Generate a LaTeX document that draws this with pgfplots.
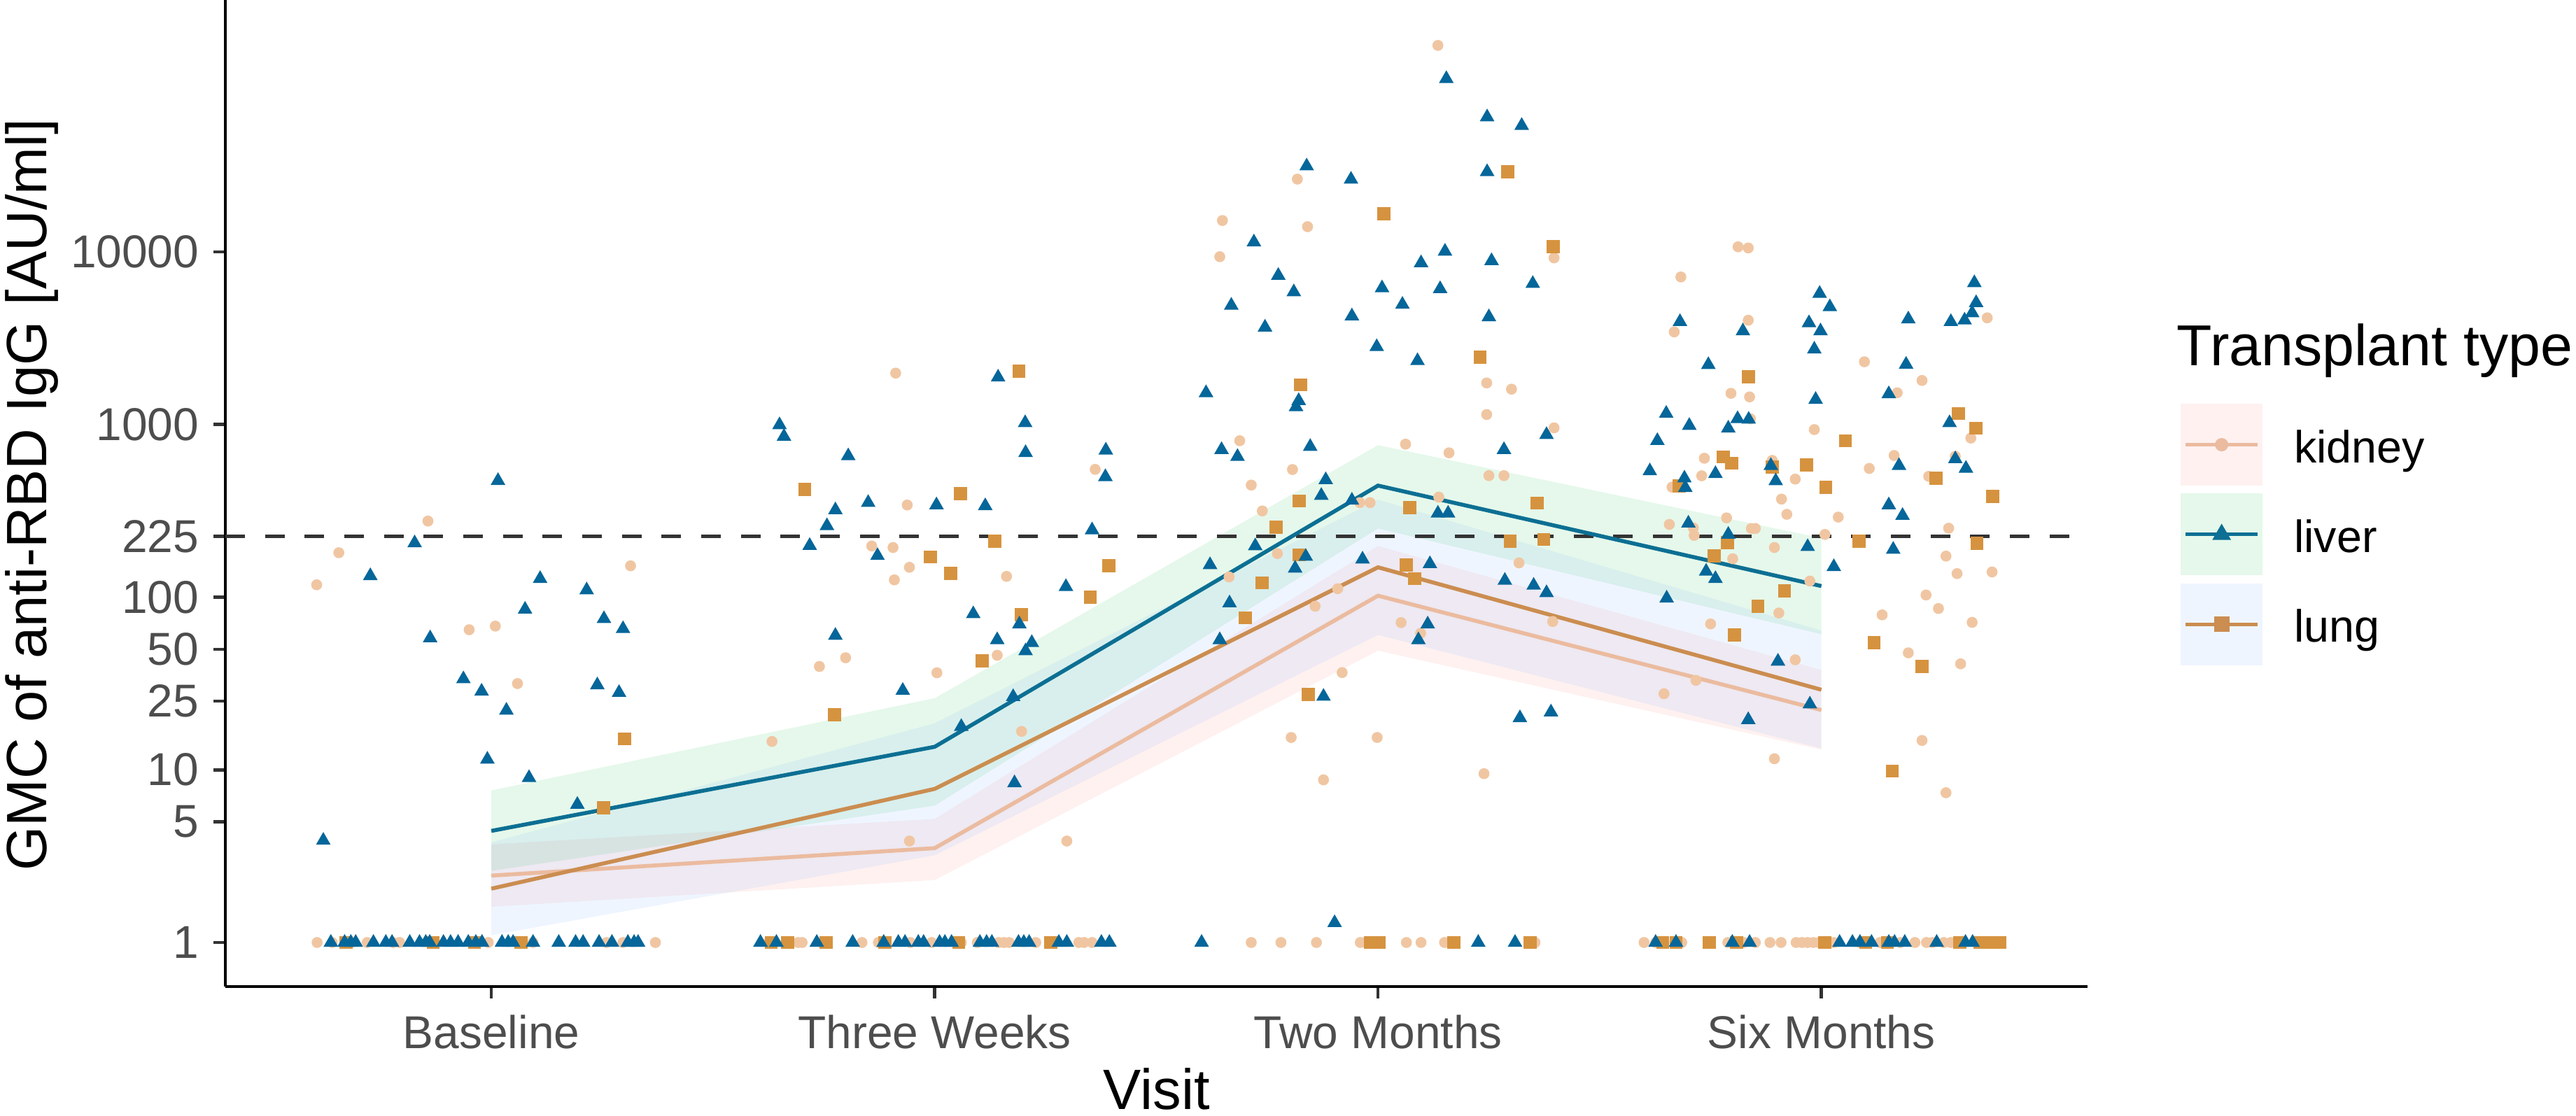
\documentclass[border=0pt]{standalone}
\usepackage{pgfplots}
\pgfplotsset{compat=1.18}
\usepackage{fontspec}
\setmainfont{Liberation Sans}
\definecolor{kidpt}{HTML}{F0C6A2}
\definecolor{kidln}{HTML}{EBBB9F}
\definecolor{livpt}{HTML}{05669A}
\definecolor{livln}{HTML}{0C6F93}
\definecolor{lungpt}{HTML}{D6933F}
\definecolor{lungln}{HTML}{CB8D50}
\definecolor{rred}{HTML}{F8766D}
\definecolor{rgreen}{HTML}{00BA38}
\definecolor{rblue}{HTML}{619CFF}
\definecolor{tickc}{HTML}{333333}
\definecolor{labc}{HTML}{4D4D4D}
\begin{document}
\begin{tikzpicture}
\begin{axis}[
  width=638.6pt, height=338.4pt, scale only axis,
  xmin=-0.6, xmax=3.6,
  ymode=log, ymin=0.5556, ymax=287800,
  axis x line=bottom, axis y line=left,
  axis line style={-, line width=1.1pt, black},
  xtick={0,1,2,3},
  xticklabels={Baseline,Three Weeks,Two Months,Six Months},
  ytick={1,5,10,25,50,100,225,1000,10000},
  yticklabels={1,5,10,25,50,100,225,1000,10000},
  yminorticks=false, xminorticks=false,
  tick align=outside, major tick length=4.1pt,
  every tick/.style={line width=1.1pt, color=tickc},
  tick label style={font=\fontsize{15.8}{18}\selectfont, color=labc, inner sep=0pt},
  xticklabel style={anchor=base, yshift=-17.2pt},
  yticklabel style={anchor=east, xshift=-4.8pt},
  legend style={at={(axis description cs:1.05011,0.59073)}, anchor=north west,
    draw=none, fill=none, inner sep=0pt, outer sep=0pt,
    row sep=2.7pt, column sep=10.8pt,
    font=\fontsize{15.5}{18}\selectfont,
    nodes={inner sep=0pt, outer sep=0pt, text depth=0pt},
    cells={anchor=base west}},
]
% ---------------- kidney points ----------------
\addplot[only marks, mark=*, mark size=1.68pt, color=kidpt, mark options={draw=none, fill=kidpt}, forget plot] table {
x y
-0.143 276
-0.344 181
-0.394 118
0.314 152
-0.050 64.8
0.009 68
0.059 31.6
-0.393 1
-0.359 1
-0.316 1
-0.280 1
-0.221 1
-0.207 1
-0.007 1
0.094 1
0.260 1
0.297 1
0.370 1
0.912 1986
1.362 550
0.938 342
0.858 198
0.906 194
0.943 149
0.909 126
1.162 132
0.799 44.6
0.740 39.7
1.005 36.5
1.141 46.1
0.633 14.6
1.196 16.7
0.943 3.87
1.298 3.87
0.625 1
0.692 1
0.701 1
0.836 1
0.873 1
0.945 1
0.993 1
1.060 1
1.096 1
1.144 1
1.156 1
1.168 1
1.228 1
1.325 1
1.337 1
1.355 1
2.135 157000
1.818 26400
1.649 15200
1.841 14000
1.643 9380
2.397 9230
2.245 1742
2.301 1603
2.245 1143
2.397 957
1.688 806
2.062 770
2.160 686
1.807 549
1.714 446
2.250 506
2.284 506
1.739 316
1.959 353
1.982 353
1.773 179
1.664 131
2.137 380
2.318 158
2.394 72.3
1.858 88.7
1.909 112
2.052 71.3
2.096 61.8
1.919 36.6
1.804 15.4
1.998 15.4
1.877 8.75
2.239 9.5
1.714 1
1.781 1
1.861 1
1.960 1
1.973 1
1.990 1
2.064 1
2.097 1
2.150 1
2.354 1
2.812 10700
2.835 10540
2.683 7160
2.835 4020
2.668 3440
3.374 4150
3.097 2310
3.227 1800
2.796 1517
2.838 1446
3.171 1527
2.840 1079
2.984 935
3.337 835
2.736 638
3.164 662
3.302 655
2.889 620
3.108 557
2.730 505
2.941 483
2.663 434
3.242 501
2.910 370
2.922 302
3.038 291
2.786 288
2.657 264
2.711 252
2.713 228
2.842 250
2.851 250
3.008 231
3.287 251
2.894 194
2.800 167
3.281 173
3.306 137
3.385 140
3.236 103
3.264 86
3.137 79
3.340 71.5
2.750 70
2.904 81
2.974 124
3.196 47.6
3.314 41.1
2.941 43.4
2.717 33
2.645 27.6
3.227 14.8
2.894 11.6
3.281 7.37
2.600 1
2.626 1
2.636 1
2.645 1
2.685 1
2.789 1
2.825 1
2.851 1
2.884 1
2.909 1
2.943 1
2.956 1
2.969 1
2.982 1
2.995 1
3.015 1
3.028 1
3.087 1
3.132 1
3.178 1
3.211 1
3.237 1
3.250 1
3.276 1
3.292 1
3.312 1
};
% ---------------- lung points ----------------
\addplot[only marks, mark=square*, mark size=2.04pt, color=lungpt, mark options={draw=none, fill=lungpt}, forget plot] table {
x y
0.300 15.1
0.253 6.03
-0.328 1
-0.131 1
-0.038 1
0.067 1
1.190 2042
0.707 422
1.058 399
1.135 211
0.990 171
1.036 137
1.393 152
1.351 100
1.196 79
1.107 42.9
0.774 20.9
0.631 1
0.668 1
0.755 1
0.888 1
1.054 1
1.262 1
2.292 29100
2.013 16600
2.395 10700
2.230 2460
1.825 1700
1.822 361
1.770 255
1.822 176
1.739 121
1.701 76
2.072 330
2.359 351
2.298 211
2.374 216
2.064 154
2.083 128
1.843 27.3
1.983 1
2.003 1
2.171 1
2.343 1
2.836 1893
3.309 1159
3.348 952
3.054 806
2.779 650
2.798 597
2.966 584
2.889 567
2.679 442
3.010 434
3.258 489
3.386 383
3.085 211
3.351 205
2.788 207
2.758 173
2.917 109
2.857 88.7
2.804 60.4
3.119 54.6
3.227 39.8
3.160 9.84
2.642 1
2.672 1
2.747 1
2.809 1
3.008 1
3.100 1
3.149 1
3.312 1
3.358 1
3.374 1
3.390 1
3.403 1
};
% ---------------- liver points ----------------
\addplot[only marks, mark=triangle*, mark size=2.5pt, color=livpt, mark options={draw=none, fill=livpt}, forget plot] table {
x y
0.015 473
-0.173 206
-0.273 133
0.110 128
0.215 110
0.076 85
0.254 75
0.297 65.6
-0.138 58
-0.063 33.6
-0.022 28.5
0.239 31
0.288 28
0.034 22.1
-0.009 11.5
0.085 9.0
0.194 6.3
-0.379 3.9
-0.362 1
-0.331 1
-0.317 1
-0.306 1
-0.266 1
-0.238 1
-0.224 1
-0.184 1
-0.162 1
-0.148 1
-0.139 1
-0.108 1
-0.092 1
-0.075 1
-0.052 1
-0.035 1
-0.021 1
0.024 1
0.038 1
0.049 1
0.094 1
0.152 1
0.190 1
0.207 1
0.243 1
0.272 1
0.308 1
0.322 1
0.331 1
1.143 1879
0.650 995
0.660 853
1.204 1023
1.205 687
0.805 658
1.386 710
1.385 498
0.850 353
0.776 320
1.004 342
1.114 338
0.757 259
0.718 199
0.871 174
1.355 245
1.296 115
1.087 80
1.191 69.8
0.776 60
1.141 56.6
1.219 54.5
1.205 48.8
0.928 28.8
1.177 26.5
1.060 17.8
1.180 8.4
0.607 1
0.643 1
0.734 1
0.815 1
0.885 1
0.918 1
0.933 1
0.963 1
0.975 1
1.011 1
1.023 1
1.038 1
1.102 1
1.117 1
1.129 1
1.189 1
1.201 1
1.213 1
1.280 1
1.298 1
1.376 1
1.394 1
2.154 100700
2.246 60400
2.324 53900
1.839 31400
1.939 26300
2.246 29100
1.720 11400
2.151 10070
2.097 8630
2.256 8880
1.775 7300
1.810 5860
2.009 6180
2.140 6110
2.349 6550
1.669 4900
2.055 4960
1.941 4250
2.250 4200
1.745 3660
1.997 2820
2.089 2340
1.612 1526
1.821 1374
1.815 1265
1.647 715
1.683 652
1.847 745
2.284 715
2.380 873
1.882 478
1.872 388
1.621 154
1.723 198
1.941 364
1.837 172
1.813 147
1.965 166
2.117 156
2.135 306
2.158 306
1.665 92.5
2.286 125
2.351 117
2.380 106
1.643 56.6
2.112 69.8
2.091 56.6
1.877 26.6
2.320 20.0
2.390 21.6
1.902 1.30
1.602 1
2.226 1
2.309 1
3.345 6620
2.996 5740
3.019 4800
3.349 5070
3.340 4430
2.681 3940
2.972 3880
3.196 4080
3.292 3940
3.323 4020
2.823 3480
2.998 3480
2.984 2730
2.745 2220
3.191 2230
3.152 1505
2.987 1396
2.650 1159
2.702 986
2.811 1080
2.836 1071
2.790 952
3.289 1023
2.630 806
2.613 538
2.761 519
2.691 489
2.693 431
2.886 578
2.897 471
3.175 578
3.326 557
3.302 632
3.152 342
3.183 297
2.700 268
2.790 231
2.969 196
3.162 189
3.028 150
2.740 141
2.761 128
2.651 98.6
2.902 42.5
2.974 24
2.835 19.5
2.626 1
2.672 1
2.799 1
2.838 1
3.041 1
3.070 1
3.087 1
3.113 1
3.152 1
3.165 1
3.188 1
3.260 1
3.325 1
3.341 1
};
% ---------------- ribbons ----------------
\addplot[draw=none, fill=rred, fill opacity=0.1, forget plot] coordinates {
(0,1.61) (1,2.3) (2,49) (3,13.1) (3,37.9) (2,198) (1,5.2) (0,3.7)} -- cycle;
\addplot[draw=none, fill=rgreen, fill opacity=0.1, forget plot] coordinates {
(0,2.6) (1,6.2) (2,250) (3,61) (3,220) (2,760) (1,26) (0,7.6)} -- cycle;
\addplot[draw=none, fill=rblue, fill opacity=0.1, forget plot] coordinates {
(0,1.10) (1,3.2) (2,60.5) (3,13.3) (3,64) (2,367) (1,18.6) (0,3.8)} -- cycle;
% ---------------- threshold ----------------
\addplot[color=tickc, line width=1.35pt, dash pattern=on 6.7pt off 6.9pt, forget plot] coordinates {(-0.6,225) (3.6,225)};
% ---------------- lines ----------------
\addplot[color=kidln, line width=1.35pt, no marks,
  legend image code/.code={
    \path[draw=none, fill=rred, fill opacity=0.1] (0pt,-7.84pt) rectangle (28.08pt,20.24pt);
    \draw[kidln, line width=1.2pt, mark=*, mark size=1.68pt, mark options={draw=none, fill=kidln}, mark repeat=2, mark phase=2]
      plot coordinates {(1.6pt,6.2pt) (14.04pt,6.2pt) (26.4pt,6.2pt)};
  }] coordinates {(0,2.44) (1,3.52) (2,102) (3,22.2)};
\addlegendentry{kidney}
\addplot[color=livln, line width=1.35pt, no marks,
  legend image code/.code={
    \path[draw=none, fill=rgreen, fill opacity=0.1] (0pt,-7.84pt) rectangle (28.08pt,20.24pt);
    \draw[livln, line width=1.2pt, mark=triangle*, mark size=2.5pt, mark options={draw=none, fill=livln}, mark repeat=2, mark phase=2]
      plot coordinates {(1.6pt,6.2pt) (14.04pt,6.2pt) (26.4pt,6.2pt)};
  }] coordinates {(0,4.43) (1,13.6) (2,443) (3,116)};
\addlegendentry{liver}
\addplot[color=lungln, line width=1.35pt, no marks,
  legend image code/.code={
    \path[draw=none, fill=rblue, fill opacity=0.1] (0pt,-7.84pt) rectangle (28.08pt,20.24pt);
    \draw[lungln, line width=1.2pt, mark=square*, mark size=2.04pt, mark options={draw=none, fill=lungln}, mark repeat=2, mark phase=2]
      plot coordinates {(1.6pt,6.2pt) (14.04pt,6.2pt) (26.4pt,6.2pt)};
  }] coordinates {(0,2.05) (1,7.76) (2,149) (3,29.1)};
\addlegendentry{lung}
\end{axis}
\node[rotate=90, anchor=base, inner sep=0pt, font=\fontsize{19.5}{22}\selectfont] at (-61.2pt,168.7pt) {GMC of anti-RBD IgG [AU/ml]};
\node[anchor=base, inner sep=0pt, font=\fontsize{19.5}{22}\selectfont] at (319.4pt,-42.0pt) {Visit};
\node[anchor=base west, inner sep=0pt, font=\fontsize{19.8}{22}\selectfont] at (669.1pt,212.9pt) {Transplant type};
\pgfresetboundingbox
\path[use as bounding box] (-77.28pt,-44.4pt) rectangle (806.16pt,338.4pt);
\end{tikzpicture}
\end{document}
